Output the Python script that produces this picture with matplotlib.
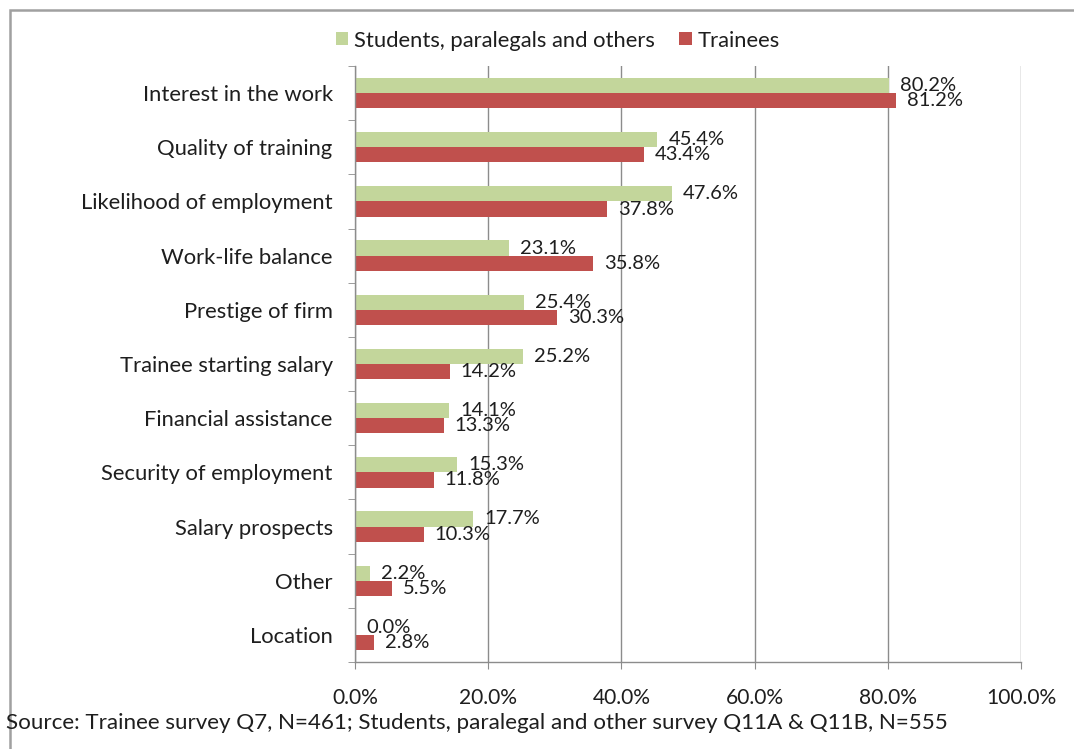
import matplotlib.pyplot as plt
from matplotlib.patches import Rectangle
import numpy as np

categories = [
    "Interest in the work",
    "Quality of training",
    "Likelihood of employment",
    "Work-life balance",
    "Prestige of firm",
    "Trainee starting salary",
    "Financial assistance",
    "Security of employment",
    "Salary prospects",
    "Other",
    "Location",
]
students = [80.2, 45.4, 47.6, 23.1, 25.4, 25.2, 14.1, 15.3, 17.7, 2.2, 0.0]
trainees = [81.2, 43.4, 37.8, 35.8, 30.3, 14.2, 13.3, 11.8, 10.3, 5.5, 2.8]
xticks = [0, 20, 40, 60, 80, 100]
source = "Source: Trainee survey Q7, N=461; Students, paralegal and other survey Q11A & Q11B, N=555"

green = "#c3d69b"
red = "#c0504d"
txt = "#1e1e1e"
grid = "#8c8c8c"

plt.rcParams["font.family"] = ["Lato", "DejaVu Sans"]
fs = 15.8
fs_val = 14.5

fig = plt.figure(figsize=(10.74, 7.49), dpi=100)
ax = fig.add_axes([0.3305, 0.1162, 0.6201, 0.7957])

y = np.arange(len(categories))
h = 0.28
b1 = ax.barh(y - h / 2, students, height=h, color=green, label="Students, paralegals and others")
b2 = ax.barh(y + h / 2, trainees, height=h, color=red, label="Trainees")

for bars, vals in ((b1, students), (b2, trainees)):
    for rect, v in zip(bars, vals):
        ax.annotate(f"{v:.1f}%", (rect.get_width(), rect.get_y() + rect.get_height() / 2),
                    xytext=(8, 0), textcoords="offset points", va="center", ha="left",
                    fontsize=fs_val, color=txt)

ax.set_ylim(len(categories) - 0.5, -0.5)
ax.set_xlim(0, 100)
ax.set_xticks(xticks)
ax.set_xticklabels([f"{t:.1f}%" for t in xticks], fontsize=fs_val + 0.6, color=txt)
ax.set_yticks(y)
ax.set_yticklabels(categories, fontsize=fs, color=txt)
ax.set_yticks(np.arange(len(categories) + 1) - 0.5, minor=True)
ax.tick_params(axis="y", which="major", length=0, pad=16)
ax.tick_params(axis="y", which="minor", length=5, color=grid, direction="out")
ax.tick_params(axis="x", length=5, color=grid, direction="out", pad=14)

ax.grid(axis="x", color=grid, linewidth=1)
ax.set_axisbelow(True)
for s in ("top", "right"):
    ax.spines[s].set_visible(False)
for s in ("left", "bottom"):
    ax.spines[s].set_color(grid)
    ax.spines[s].set_linewidth(1)

ax.legend(loc="lower center", bbox_to_anchor=(0.305, 1.0), ncol=2, frameon=False,
          fontsize=fs, handlelength=0.55, handleheight=0.55, handletextpad=0.3,
          columnspacing=1.1, labelcolor=txt, borderaxespad=0.3)

fig.text(6 / 1074, 1 - 723 / 749, source, fontsize=fs + 0.3, color=txt, va="center", ha="left")

# outer chart frame, running off the right and bottom edges
fig.patches.append(Rectangle((10 / 1074, -0.1), 1.2, 1 - 10 / 749 + 0.1,
                             transform=fig.transFigure, fill=False,
                             edgecolor="#a0a0a0", linewidth=1.8, clip_on=False))

fig.savefig("out.png", dpi=100)
